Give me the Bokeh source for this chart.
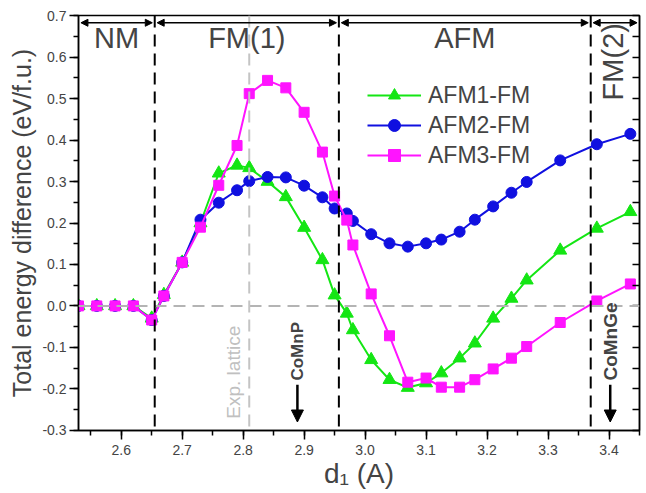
import math
from bokeh.plotting import figure
from bokeh.models import (Span, Arrow, NormalHead, Label, LinearAxis, Range1d,
                          SingleIntervalTicker, Legend, LegendItem, ColumnDataSource,
                          NumeralTickFormatter)
from bokeh.embed import file_html
from bokeh.resources import INLINE

# ---- data ----
d1 = [2.53, 2.56, 2.59, 2.62, 2.65, 2.67, 2.70, 2.73, 2.76, 2.79, 2.81, 2.84, 2.87,
      2.90, 2.93, 2.95, 2.97, 2.98, 3.01, 3.04, 3.07, 3.10, 3.125, 3.155, 3.18, 3.21,
      3.24, 3.265, 3.32, 3.38, 3.435]
afm1_fm = [0, 0, 0, 0, -0.03, 0.027, 0.105, 0.20, 0.32, 0.339, 0.333, 0.30, 0.263,
           0.189, 0.111, 0.026, -0.018, -0.058, -0.13, -0.178, -0.197, -0.186, -0.162,
           -0.126, -0.09, -0.03, 0.018, 0.062, 0.134, 0.187, 0.227]
afm2_fm = [0, 0, 0, 0, -0.034, 0.024, 0.105, 0.208, 0.249, 0.279, 0.301, 0.311, 0.31,
           0.29, 0.262, 0.235, 0.223, 0.205, 0.173, 0.151, 0.143, 0.151, 0.16, 0.179,
           0.208, 0.24, 0.273, 0.299, 0.351, 0.39, 0.415]
afm3_fm = [0, 0, 0, 0, -0.034, 0.024, 0.105, 0.19, 0.291, 0.387, 0.512, 0.544, 0.526,
           0.467, 0.371, 0.265, 0.207, 0.147, 0.029, -0.072, -0.184, -0.174, -0.196,
           -0.196, -0.178, -0.152, -0.126, -0.098, -0.04, 0.012, 0.053]
series_names = ["AFM1-FM", "AFM2-FM", "AFM3-FM"]
region_names = ["NM", "FM(1)", "AFM", "FM(2)"]
boundaries = [2.655, 2.957, 3.37]
exp_lattice = 2.81
compounds = ["CoMnP", "CoMnGe"]
compound_d1 = [2.889, 3.402]
x_range = (2.53, 3.45)
y_range = (-0.3005, 0.7005)

FONT = "Liberation Sans"

p = figure(width=646, height=491, x_range=Range1d(*x_range),
           y_range=Range1d(*y_range), output_backend="svg",
           toolbar_location=None, min_border_left=78, min_border_right=7,
           min_border_top=15, min_border_bottom=60)
p.xgrid.visible = False
p.ygrid.visible = False
p.outline_line_color = "black"
p.outline_line_width = 1.5
p.background_fill_color = "white"
p.border_fill_color = "white"

# axes
for ax in (p.xaxis[0], p.yaxis[0]):
    ax.axis_line_width = 1.5
    ax.major_tick_line_width = 1.5
    ax.minor_tick_line_width = 1.5
    ax.major_tick_out = 9
    ax.major_tick_in = 0
    ax.minor_tick_out = 5
    ax.minor_tick_in = 0
    ax.major_label_text_font = FONT
    ax.major_label_text_font_size = "14px"
    ax.major_label_text_color = "#444444"
    ax.axis_label_text_font = FONT
    ax.axis_label_text_font_style = "normal"
    ax.formatter = NumeralTickFormatter(format="0.0")

p.xaxis[0].ticker = SingleIntervalTicker(interval=0.1, num_minor_ticks=2)
p.yaxis[0].ticker = SingleIntervalTicker(interval=0.1, num_minor_ticks=2)
p.xaxis[0].axis_label = "d\u2081 (A)"
p.xaxis[0].axis_label_text_font_size = "28px"
p.xaxis[0].axis_label_standoff = 0
p.xaxis[0].major_label_standoff = 5
p.yaxis[0].axis_label = "Total energy difference (eV/f.u.)"
p.yaxis[0].axis_label_text_font_size = "25px"
p.yaxis[0].axis_label_standoff = 3
p.yaxis[0].major_label_standoff = 3

right = LinearAxis(ticker=SingleIntervalTicker(interval=0.05, num_minor_ticks=0),
                   major_tick_in=7, major_tick_out=0, minor_tick_in=0, minor_tick_out=0,
                   major_label_text_font_size="0px", axis_line_width=1.5,
                   major_tick_line_width=1.5)
p.add_layout(right, "right")

# reference lines
p.add_layout(Span(location=0, dimension="width", line_color="#b4b4b4",
                  line_width=2, line_dash="12 7"))
p.add_layout(Span(location=exp_lattice, dimension="height", line_color="#c4c4c4",
                  line_width=2, line_dash="12 7"))
for b in boundaries:
    p.add_layout(Span(location=b, dimension="height", line_color="black",
                      line_width=2, line_dash="12 7"))

# series
colors = ["#14e614", "#1010e0", "#ff14ff"]
markers = ["triangle", "circle", "square"]
sizes = [13, 11, 10]
items = []
for name, vals, c, m, s in zip(series_names, [afm1_fm, afm2_fm, afm3_fm], colors, markers, sizes):
    src = ColumnDataSource(dict(x=d1, y=vals))
    lr = p.line("x", "y", source=src, line_color=c, line_width=2)
    sr = p.scatter("x", "y", source=src, marker=m, size=s, fill_color=c, line_color=c)
    items.append(LegendItem(label=name, renderers=[lr, sr]))

legend = Legend(items=items, location=(289, 260), glyph_width=54, glyph_height=30,
                label_height=30, label_standoff=7, spacing=0, padding=0, margin=0,
                border_line_alpha=0, background_fill_alpha=0,
                label_text_font=FONT, label_text_font_size="23px")
p.add_layout(legend)

# region arrows at top
y_arrow = 0.683
edges = [x_range[0]] + boundaries + [x_range[1]]
for i in range(len(edges) - 1):
    p.add_layout(Arrow(x_start=edges[i] + 0.004, x_end=edges[i + 1] - 0.004,
                       y_start=y_arrow, y_end=y_arrow, line_width=1.5,
                       start=NormalHead(size=7, fill_color="black", line_color="black"),
                       end=NormalHead(size=7, fill_color="black", line_color="black")))
region_y = 0.647
for i, name in enumerate(region_names[:3]):
    p.add_layout(Label(x=(edges[i] + edges[i + 1]) / 2, y=region_y, text=name,
                       text_align="center", text_baseline="middle",
                       text_font=FONT, text_font_size="29px"))
p.add_layout(Label(x=3.407, y=0.589, text=region_names[3],
                   angle=math.pi / 2, text_align="center", text_baseline="middle",
                   text_font=FONT, text_font_size="29px"))

# experimental lattice text
p.add_layout(Label(x=exp_lattice - 0.026, y=-0.272, text="Exp. lattice", angle=math.pi / 2,
                   text_align="left", text_baseline="middle", text_font=FONT,
                   text_font_size="19px", text_color="#c0c0c0"))

# compound arrows
for name, xc, fs in zip(compounds, compound_d1, ["17px", "19px"]):
    p.add_layout(Label(x=xc, y=-0.18, text=name, angle=math.pi / 2, text_align="left",
                       text_baseline="middle", text_font=FONT, text_font_size=fs,
                       text_font_style="bold"))
    p.add_layout(Arrow(x_start=xc, x_end=xc, y_start=-0.19, y_end=-0.28, line_width=2.5,
                       end=NormalHead(size=12, fill_color="black", line_color="black")))

open("out.html", "w").write(file_html(p, INLINE))
